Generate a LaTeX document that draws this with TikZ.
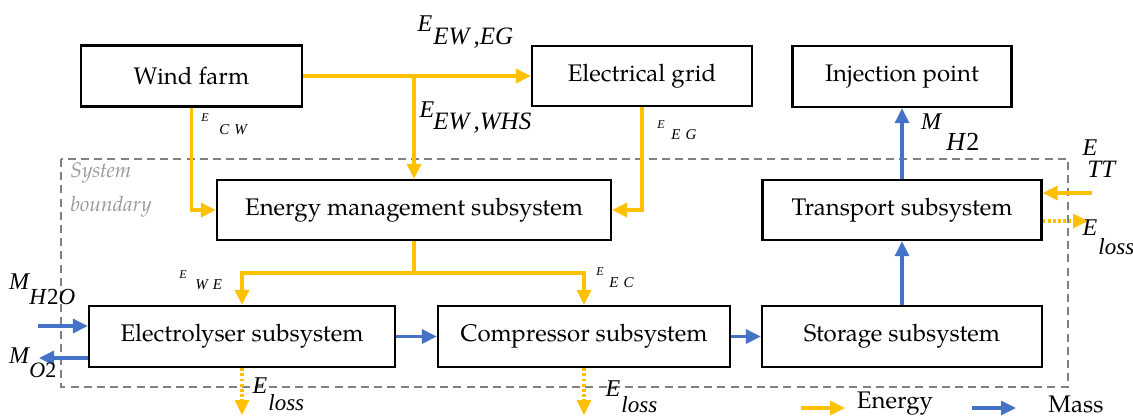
\documentclass[tikz,border=0pt]{standalone}
\usepackage{fontspec}
\setmainfont{TeX Gyre Pagella}
\newfontfamily\lab{Liberation Serif}
\usetikzlibrary{arrows.meta}
\definecolor{eorange}{HTML}{FFC000}
\definecolor{mblue}{HTML}{4472C4}
\definecolor{bgray}{HTML}{808080}
\definecolor{tgray}{HTML}{999999}
\begin{document}
\begin{tikzpicture}[x=0.5pt,y=-0.5pt,
  box/.style={draw=black,line width=1.15pt,fill=white,inner sep=0pt,font=\fontsize{12}{14}\selectfont},
  tipA/.style={-{Triangle[length=7.5pt,width=7pt]}},
  en/.style={draw=eorange,line width=1.6pt,tipA},
  ms/.style={draw=mblue,line width=1.6pt,tipA},
  enloss/.style={en,dash pattern=on 1.4pt off 1.2pt},
  bigE/.style={inner sep=0pt,font=\lab\itshape\fontsize{12}{13}\selectfont},
  smallE/.style={inner sep=0pt,font=\lab\itshape\fontsize{6}{7}\selectfont},
  smallsub/.style={inner sep=0pt,anchor=west,font=\lab\itshape\fontsize{7.5}{8}\selectfont},
  bigsub/.style={inner sep=0pt,anchor=west,font=\lab\itshape\fontsize{12.5}{13}\selectfont},
  losssub/.style={inner sep=0pt,anchor=west,font=\lab\itshape\fontsize{11.5}{12}\selectfont},
  leg/.style={inner sep=0pt,font=\fontsize{12}{14}\selectfont},
  sysb/.style={inner sep=0pt,anchor=west,text=tgray,font=\itshape\fontsize{10.5}{12}\selectfont}
]
\useasboundingbox (0,0) rectangle (1133,419);

% system boundary
\draw[bgray,line width=1pt,dash pattern=on 4pt off 2.6pt] (61,159) rectangle (1068,387);
\node[sysb] (sys1) at (70,173) {System};
\node[sysb] (sys2) at (70,207) {boundary};

% boxes
\node[box,minimum width=110.5pt,minimum height=30.5pt] (wind) at (191.5,76) {Wind farm};
\node[box,minimum width=110pt,minimum height=30pt] (grid) at (642,76) {Electrical grid};
\node[box,minimum width=109.5pt,minimum height=30.5pt] (inj) at (902,76.5) {Injection point};
\node[box,minimum width=197pt,minimum height=30pt] (ems) at (414,210) {Energy management subsystem};
\node[box,minimum width=139.5pt,minimum height=30pt] (trans) at (902,210) {Transport subsystem};
\node[box,minimum width=153pt,minimum height=30.5pt] (elec) at (242,336.5) {Electrolyser subsystem};
\node[box,minimum width=146pt,minimum height=30.5pt] (comp) at (584,336.5) {Compressor subsystem};
\node[box,minimum width=140pt,minimum height=30.5pt] (stor) at (902,336.5) {Storage subsystem};

% coordinates
\coordinate (branch) at (ems.north |- wind.east);
\coordinate (split) at (414,273);
\coordinate (h2oin) at (38,326);
\coordinate (o2out) at (39,358);
\coordinate (loss1) at (242,415);
\coordinate (loss2) at (584,415);
\coordinate (ttin) at (1092,193);
\coordinate (losst) at (1088,221);
\coordinate (lgE1) at (801,408);
\coordinate (lgE2) at (845,408);
\coordinate (lgM1) at (972,408);
\coordinate (lgM2) at (1016,408);

% energy flows
\draw[en] (wind.east) -- (grid.west);
\draw[en] (branch) -- (ems.north);
\draw[en] (wind.south) |- (ems.west);
\draw[en] (grid.south) |- (ems.east);
\draw[eorange,line width=1.6pt] (ems.south) -- (split);
\draw[en] (split) -| (elec.north);
\draw[en] (split) -| (comp.north);
\draw[enloss] (elec.south) -- (loss1);
\draw[enloss] (comp.south) -- (loss2);
\draw[en] (ttin) -- (ttin -| trans.east);
\draw[enloss] (losst -| trans.east) -- (losst);

% mass flows
\draw[ms] (elec.east) -- (comp.west);
\draw[ms] (comp.east) -- (stor.west);
\draw[ms] (stor.north) -- (trans.south);
\draw[ms] (trans.north) -- (inj.south);
\draw[ms] (h2oin) -- (h2oin -| elec.west);
\draw[ms] (o2out -| elec.west) -- (o2out);

% labels
\node[bigE] (l1E) at (425,24) {E};
\node[bigsub] (l1s) at (433,38) {EW\,,EG};
\node[bigE] (l2E) at (427,110) {E};
\node[bigsub] (l2s) at (433,123) {EW\,,WHS};
\node[smallE] (l3E) at (205,118) {E};
\node[smallsub] (l3s) at (219,130) {C\,\,W};
\node[smallE] (l4E) at (661,125) {E};
\node[smallsub] (l4s) at (671,135) {E\,\,G};
\node[smallE] (l5E) at (183,275) {E};
\node[smallsub] (l5s) at (195,285) {W\,\,E};
\node[smallE] (l6E) at (600,272) {E};
\node[smallsub] (l6s) at (609,283) {E\,\,C};
\node[bigE] (m1M) at (931,122) {M};
\node[inner sep=0pt,anchor=west,font=\lab\itshape\fontsize{13}{14}\selectfont] (m1s) at (946,142) {H\textup{2}};
\node[bigE] (m2M) at (19,282) {M};
\node[inner sep=0pt,anchor=west,font=\lab\itshape\fontsize{11.5}{12}\selectfont] (m2s) at (29,297) {H\textup{2}O};
\node[bigE] (m3M) at (19,356) {M};
\node[inner sep=0pt,anchor=west,font=\lab\itshape\fontsize{11}{12}\selectfont] (m3s) at (29,370) {O\textup{2}};
\node[bigE] (ttE) at (1090,148) {E};
\node[bigsub] (tts) at (1087,169) {TT};
\node[bigE] (ltE) at (1090,228) {E};
\node[losssub] (lts) at (1098,247) {loss};
\node[bigE] (le1E) at (260,386) {E};
\node[losssub] (le1s) at (268,403) {loss};
\node[bigE] (le2E) at (613,389) {E};
\node[losssub] (le2s) at (621,405) {loss};

% legend
\draw[en] (lgE1) -- (lgE2);
\node[leg] (legE) at (895,404) {Energy};
\draw[ms] (lgM1) -- (lgM2);
\node[leg] (legM) at (1076,404) {Mass};
\end{tikzpicture}
\end{document}
